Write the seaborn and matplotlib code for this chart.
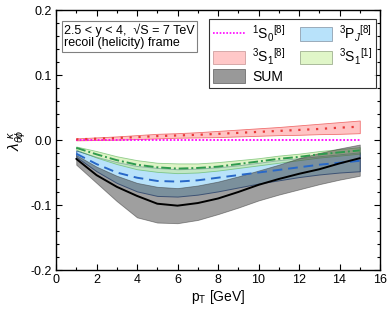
import matplotlib
matplotlib.use("Agg")
import matplotlib.pyplot as plt
from matplotlib.lines import Line2D
from matplotlib.patches import Patch
from matplotlib.ticker import MultipleLocator
import numpy as np
import pandas as pd
import seaborn as sns

# ── Data ─────────────────────────────────────────────────────────────────────
pt = [1, 2, 3, 4, 5, 6, 7, 8, 9, 10, 11, 12, 13, 14, 15]

s0_8 = [0.0] * 15

s1_8_mid = [0.001, 0.002, 0.003, 0.0045, 0.006, 0.007, 0.008, 0.0095, 0.011, 0.0125, 0.014, 0.0155, 0.017, 0.019, 0.0205]
s1_8_lo = [-0.0005, 0.0, 0.0005, 0.0015, 0.0025, 0.0035, 0.004, 0.0045, 0.0055, 0.0065, 0.0075, 0.008, 0.009, 0.0095, 0.0105]
s1_8_hi = [0.0025, 0.004, 0.0055, 0.0075, 0.0095, 0.0105, 0.012, 0.014, 0.016, 0.018, 0.020, 0.0225, 0.025, 0.0275, 0.030]

s1_1_mid = [-0.012, -0.022, -0.031, -0.038, -0.042, -0.044, -0.043, -0.041, -0.037, -0.033, -0.029, -0.026, -0.022, -0.019, -0.016]
s1_1_hi = [-0.010, -0.017, -0.025, -0.031, -0.035, -0.036, -0.036, -0.034, -0.031, -0.028, -0.024, -0.021, -0.017, -0.014, -0.011]
s1_1_lo = [-0.015, -0.027, -0.037, -0.045, -0.049, -0.051, -0.050, -0.047, -0.043, -0.039, -0.035, -0.031, -0.027, -0.024, -0.021]

pj_8_mid = [-0.021, -0.037, -0.050, -0.058, -0.063, -0.064, -0.062, -0.058, -0.054, -0.050, -0.046, -0.042, -0.038, -0.035, -0.032]
pj_8_hi = [-0.016, -0.026, -0.034, -0.040, -0.043, -0.045, -0.044, -0.042, -0.039, -0.035, -0.031, -0.028, -0.025, -0.022, -0.019]
pj_8_lo = [-0.026, -0.048, -0.066, -0.079, -0.086, -0.087, -0.084, -0.079, -0.073, -0.067, -0.062, -0.057, -0.053, -0.050, -0.048]

sum_mid = [-0.029, -0.054, -0.072, -0.086, -0.098, -0.101, -0.097, -0.090, -0.080, -0.069, -0.060, -0.052, -0.045, -0.036, -0.028]
sum_hi = [-0.023, -0.041, -0.055, -0.066, -0.072, -0.074, -0.070, -0.064, -0.056, -0.047, -0.038, -0.028, -0.020, -0.013, -0.007]
sum_lo = [-0.038, -0.066, -0.094, -0.119, -0.127, -0.128, -0.123, -0.114, -0.104, -0.093, -0.084, -0.076, -0.068, -0.061, -0.055]

x_ticks = [0, 2, 4, 6, 8, 10, 12, 14, 16]
y_ticks = [-0.2, -0.1, 0.0, 0.1, 0.2]

# ── Style ────────────────────────────────────────────────────────────────────
sns.set_theme(style="ticks")
plt.rcParams["font.family"] = ["Liberation Sans", "DejaVu Sans"]
plt.rcParams["mathtext.fontset"] = "custom"
plt.rcParams["mathtext.rm"] = "Liberation Sans"
plt.rcParams["mathtext.it"] = "Liberation Sans:italic"
plt.rcParams["text.color"] = "black"
plt.rcParams["axes.labelcolor"] = "black"
plt.rcParams["xtick.color"] = "black"
plt.rcParams["ytick.color"] = "black"

df = pd.DataFrame({
    "pt": pt, "s0_8": s0_8, "s1_8": s1_8_mid, "s1_1": s1_1_mid,
    "pj_8": pj_8_mid, "sum": sum_mid,
})

fig = plt.figure(figsize=(3.9, 3.09), dpi=100)
ax = fig.add_axes([0.1436, 0.1262, 0.8308, 0.8414])

# ── Bands ────────────────────────────────────────────────────────────────────
ax.fill_between(pt, s1_8_lo, s1_8_hi, facecolor="#ffc4c4", edgecolor="#f07070", lw=0.6, zorder=1)
ax.fill_between(pt, pj_8_lo, pj_8_hi, facecolor="#b8e2fa", edgecolor="#3a64a8", lw=0.7, zorder=2)
ax.fill_between(pt, s1_1_lo, s1_1_hi, facecolor="#c8eca0", edgecolor="#50b050", lw=0.6, alpha=0.6, zorder=3)
ax.fill_between(pt, sum_lo, sum_hi, facecolor="#404040", edgecolor="#303030", lw=0.6, alpha=0.5, zorder=4)

# ── Central lines ────────────────────────────────────────────────────────────
sns.lineplot(data=df, x="pt", y="s0_8", ax=ax, color="#ff00ff", lw=1.3, zorder=6)
ax.lines[-1].set_linestyle((0, (1, 1)))
sns.lineplot(data=df, x="pt", y="s1_8", ax=ax, color="#e83838", lw=1.6, zorder=6)
ax.lines[-1].set_linestyle((0, (1, 3)))
sns.lineplot(data=df, x="pt", y="s1_1", ax=ax, color="#2e9a4e", lw=1.4, zorder=6)
ax.lines[-1].set_linestyle((0, (5, 1.5, 1, 1.5)))
sns.lineplot(data=df, x="pt", y="pj_8", ax=ax, color="#2868c8", lw=1.4, zorder=6)
ax.lines[-1].set_linestyle((0, (5, 3)))
sns.lineplot(data=df, x="pt", y="sum", ax=ax, color="black", lw=1.4, zorder=7)

# ── Axes ─────────────────────────────────────────────────────────────────────
ax.set_xlim(0, 16)
ax.set_ylim(-0.2, 0.2)
ax.set_xticks(x_ticks)
ax.set_yticks(y_ticks)
ax.set_xticklabels([str(t) for t in x_ticks])
ax.set_yticklabels([f"{t:.1f}" for t in y_ticks])
ax.xaxis.set_minor_locator(MultipleLocator(1))
ax.yaxis.set_minor_locator(MultipleLocator(0.02))
ax.tick_params(which="both", direction="in", top=True, right=True, labelsize=9,
               color="black", labelcolor="black", pad=3)
ax.tick_params(which="major", length=4, width=0.8)
ax.tick_params(which="minor", length=2.5, width=0.8)
for sp in ax.spines.values():
    sp.set_linewidth(1.0)
    sp.set_color("black")

ax.set_xlabel(r"p$_\mathrm{T}$ [GeV]", fontsize=10, labelpad=1)
ax.set_ylabel(r"$\lambda_{\theta\phi}^{\ \kappa}$", fontsize=11, labelpad=2)

ax.text(0.025, 0.948, "2.5 < y < 4,  \u221aS = 7 TeV\nrecoil (helicity) frame",
        transform=ax.transAxes, fontsize=9, va="top", ha="left", linespacing=1.05,
        bbox=dict(boxstyle="square,pad=0.2", facecolor="white", edgecolor="#808080", lw=0.8),
        zorder=10)

handles = [
    Line2D([0], [0], color="#ff00ff", lw=1.2, linestyle=(0, (1, 1))),
    Patch(facecolor="#ffc8c8", edgecolor="#d0a0a0", lw=0.6),
    Patch(facecolor="#999999", edgecolor="#707070", lw=0.6),
    Patch(facecolor="#b8e2fa", edgecolor="#90a0b0", lw=0.6),
    Patch(facecolor="#e0f6c8", edgecolor="#a0b090", lw=0.6),
]
labels = [r"$^1$S$_0$$^{[8]}$", r"$^3$S$_1$$^{[8]}$", "SUM", r"$^3$P$_J$$^{[8]}$", r"$^3$S$_1$$^{[1]}$"]
leg = ax.legend(handles, labels, ncol=2, loc="upper right", bbox_to_anchor=(0.988, 0.965),
                borderaxespad=0, fontsize=10, frameon=True, fancybox=False,
                handlelength=2.3, handleheight=1.1, handletextpad=0.5, columnspacing=1.0,
                labelspacing=0.2, borderpad=0.3)
leg.get_frame().set_edgecolor("black")
leg.get_frame().set_linewidth(0.8)
leg.set_zorder(10)

fig.savefig("out.png", dpi=100)
